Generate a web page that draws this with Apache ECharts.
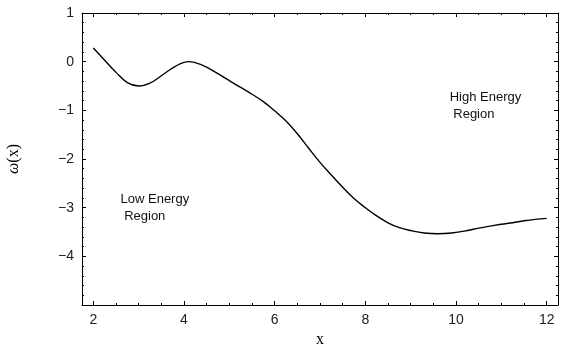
<!DOCTYPE html>
<html>
<head>
<meta charset="utf-8">
<script src="https://cdn.jsdelivr.net/npm/echarts@6/dist/echarts.min.js"></script>
<style>
  html, body { margin: 0; padding: 0; background: #fff; }
  #main { width: 565px; height: 345px; }
</style>
</head>
<body>
<div id="main"></div>
<script>
// values
const xValues = [2.0, 2.25, 2.5, 2.75, 3.0, 3.25, 3.5, 3.8, 4.1, 4.4, 4.7, 5.0, 5.25, 5.5, 5.75,
  6.0, 6.25, 6.5, 6.75, 7.0, 7.25, 7.5, 7.75, 8.0, 8.25, 8.5, 8.75, 9.0, 9.3, 9.6, 9.9,
  10.25, 10.5, 10.75, 11.0, 11.25, 11.5, 11.75, 12.0];
const omegaValues = [0.28, 0.03, -0.22, -0.43, -0.50, -0.44, -0.29, -0.10, 0.0, -0.07, -0.22, -0.39, -0.53, -0.67, -0.82,
  -1.01, -1.22, -1.48, -1.78, -2.07, -2.33, -2.58, -2.81, -3.00, -3.17, -3.31, -3.41, -3.47, -3.52, -3.535, -3.52,
  -3.47, -3.42, -3.38, -3.34, -3.31, -3.27, -3.24, -3.22];
const xTickLabels = [2, 4, 6, 8, 10, 12];
const yTickLabels = [-4, -3, -2, -1, 0, 1];
const noteTexts = ['Low Energy\n Region', 'High Energy\n Region'];
const noteX = [2.6, 9.86];
const noteY = [-2.65, -0.56];

const chart = echarts.init(document.getElementById('main'));

const frameAxis = (position, labels, split) => ({
  type: 'value',
  position: position,
  axisLine: { show: true, onZero: false, lineStyle: { color: '#000', width: 1 } },
  axisTick: { show: true, inside: true, length: 4, lineStyle: { color: '#000' } },
  minorTick: { show: true, splitNumber: split, length: 2, lineStyle: { color: '#000' } },
  splitLine: { show: false },
  axisLabel: labels
    ? {
        show: true, color: '#222', fontSize: 14, fontFamily: 'Liberation Sans', margin: 8,
        customValues: labels,
        formatter: (v) => String(v).replace('-', '\u2212')
      }
    : { show: false }
});

chart.setOption({
  animation: false,
  grid: { left: 82, right: 7, top: 13, bottom: 40, outerBoundsMode: 'none', containLabel: false },
  xAxis: [
    Object.assign(frameAxis('bottom', xTickLabels, 4), {
      min: 1.75, max: 12.25,
      name: 'x', nameLocation: 'middle', nameGap: 16,
      nameTextStyle: { fontFamily: 'Liberation Serif', fontSize: 16, color: '#000' }
    }),
    Object.assign(frameAxis('top', null, 4), { min: 1.75, max: 12.25 })
  ],
  yAxis: [
    Object.assign(frameAxis('left', yTickLabels, 5), {
      min: -5, max: 1, interval: 1,
      name: '{w|ω}(x)', nameLocation: 'middle', nameGap: 60,
      nameTextStyle: {
        fontFamily: 'Liberation Serif', fontSize: 16, color: '#000',
        rich: { w: { fontFamily: 'Liberation Serif', fontSize: 16, fontStyle: 'italic', color: '#000' } }
      }
    }),
    Object.assign(frameAxis('right', null, 5), { min: -5, max: 1, interval: 1 })
  ],
  series: [{
    type: 'line',
    data: xValues.map((x, i) => [x, omegaValues[i]]),
    smooth: 0.4,
    showSymbol: false,
    lineStyle: { color: '#000', width: 1.4 }
  }]
});

// region notes placed in data coordinates
chart.setOption({
  graphic: noteTexts.map((t, i) => {
    const p = chart.convertToPixel({ xAxisIndex: 0, yAxisIndex: 0 }, [noteX[i], noteY[i]]);
    return {
      type: 'text', x: p[0], y: p[1],
      style: { text: t, fontFamily: 'Liberation Sans', fontSize: 13, lineHeight: 17, fill: '#111', verticalAlign: 'top' }
    };
  })
});
</script>
</body>
</html>
